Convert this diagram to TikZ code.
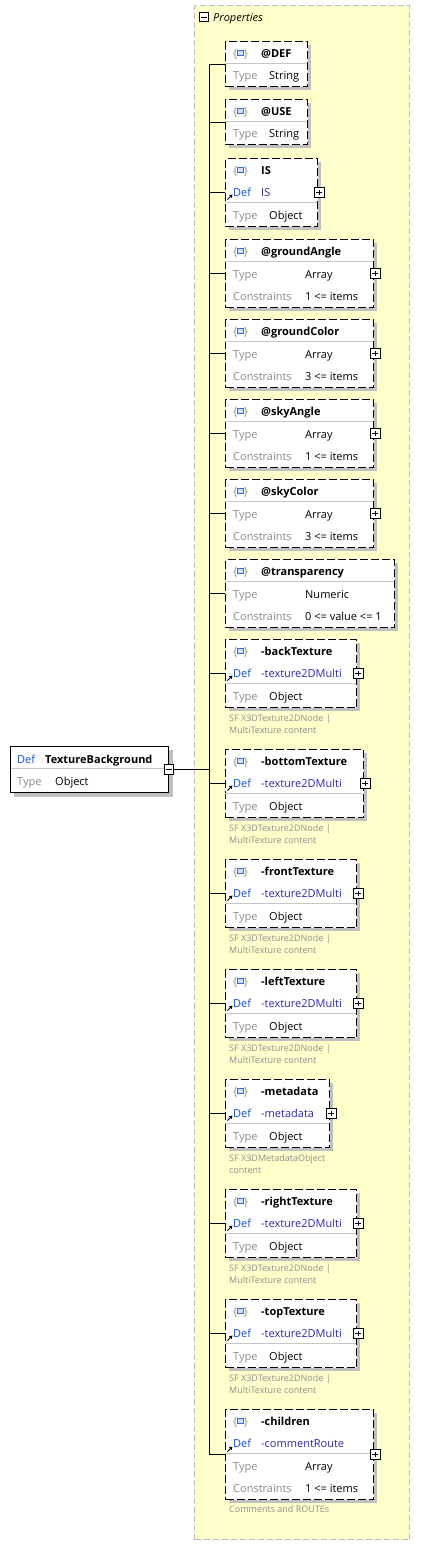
\documentclass[tikz,border=0pt]{standalone}
\usepackage{fontspec}
\setmainfont{Open Sans}
\usetikzlibrary{arrows.meta, positioning}

\definecolor{panelgelb}{HTML}{FFFFCC}
\definecolor{panelrand}{HTML}{BDBDBD}
\definecolor{schattengrau}{HTML}{C0C0C0}
\definecolor{labelgrau}{HTML}{8A8A8A}
\definecolor{notizgrau}{HTML}{8E8E8E}
\definecolor{trennergrau}{HTML}{C6C6C6}
\definecolor{defblau}{HTML}{1050D0}
\definecolor{refblau}{HTML}{2C2AA6}
\definecolor{iconblau}{HTML}{2F6FD0}
\definecolor{iconhell}{HTML}{CFE0FF}

% Rahmen + Schatten + Anschluss an den Stamm
\newcommand{\kastenbau}[4]{%
  \fill[schatten] (229,{#2+4}) rectangle ++(#3,#4);
  \node[kasten, minimum width=#3, minimum height=#4] (#1) at (225,#2) {};
  \draw[linie] (#1.west -| stamm) -- (#1.west);
}
% Kopfzeile mit Symbol
\newcommand{\kastentitel}[3]{%
  \node[txt, text=labelgrau] (#1i) at (233,{#2+12}) {\{\hspace{6.5pt}\}};
  \node[symbol] (#1s) at (#1i) {};
  \node[titeltxt] (#1t) at (261,{#2+12}) {#3};
}
% Attribut: Titel, Type
\newcommand{\attrzwei}[5]{%
  \kastenbau{#1}{#2}{#3}{45}
  \kastentitel{#1}{#2}{#4}
  \draw[trenner] (225,{#2+22.5}) -- ++(#3,0);
  \node[etikett] (#1a) at (233,{#2+34}) {Type};
  \node[wert] (#1b) at (269,{#2+34}) {#5};
}
% Attribut: Titel, Type, Constraints
\newcommand{\attrdrei}[6]{%
  \kastenbau{#1}{#2}{#3}{68}
  \kastentitel{#1}{#2}{#4}
  \draw[trenner] (225,{#2+22.5}) -- ++(#3,0);
  \node[etikett] (#1a) at (233,{#2+35}) {Type};
  \node[wert] (#1b) at (305,{#2+35}) {#5};
  \node[etikett] (#1c) at (233,{#2+57}) {Constraints};
  \node[wert] (#1d) at (305,{#2+57}) {#6};
}
% Element: Titel, Def, Type
\newcommand{\elemdrei}[6]{%
  \kastenbau{#1}{#2}{#3}{68}
  \kastentitel{#1}{#2}{#4}
  \node[deftxt] (#1a) at (233,{#2+34}) {Def};
  \node[refwert] (#1b) at (261,{#2+34}) {#5};
  \draw[trenner] (225,{#2+44.5}) -- ++(#3,0);
  \node[etikett] (#1c) at (233,{#2+57}) {Type};
  \node[wert] (#1d) at (269,{#2+57}) {#6};
  \node[plusknopf] (#1p) at ([xshift=1pt]#1.east) {};
  \draw[refpfeil] (227.5,{#2+41.5}) -- (232.5,{#2+36.5});
}
% zweizeilige Notiz unter einem Kasten
\newcommand{\notiz}[4]{%
  \node[notiztxt] (#1n) at (229,{#2+79}) {#3};
  \node[notiztxt] (#1m) at (229,{#2+91}) {#4};
}

\begin{document}
\begin{tikzpicture}[x=1pt, y=-1pt, every node/.style={font=\fontsize{11}{13}\selectfont}]
  \tikzset{
    panel/.style={draw=panelrand, fill=panelgelb, line width=1pt,
                  dash pattern=on 6pt off 3pt, anchor=north west, inner sep=0pt},
    kasten/.style={draw=black, fill=white, line width=1.2pt,
                   dash pattern=on 8pt off 3pt, anchor=north west, inner sep=0pt},
    wurzel/.style={draw=black, fill=white, line width=1pt,
                   anchor=north west, inner sep=0pt},
    schatten/.style={fill=schattengrau},
    linie/.style={draw=black, line width=1pt},
    trenner/.style={draw=trennergrau, line width=1pt},
    txt/.style={anchor=west, inner sep=0pt, text height=8pt, text depth=0pt},
    titeltxt/.style={txt, font=\fontsize{11}{13}\selectfont\bfseries},
    etikett/.style={txt, text=labelgrau},
    wert/.style={txt, text=black},
    deftxt/.style={txt, text=defblau},
    refwert/.style={txt, text=refblau},
    notiztxt/.style={txt, text=notizgrau, font=\fontsize{9}{11}\selectfont,
                     text height=6.5pt},
    symbol/.style={draw=iconblau, fill=iconhell, line width=1pt,
                   minimum width=6pt, minimum height=5pt, inner sep=0pt},
    knopf/.style={draw=black, fill=white, line width=0.8pt,
                  minimum size=9.5pt, inner sep=0pt},
    minusknopf/.style={knopf, path picture={
        \draw[line width=0.8pt]
          ([xshift=2pt]path picture bounding box.west) --
          ([xshift=-2pt]path picture bounding box.east);}},
    plusknopf/.style={knopf, path picture={
        \draw[line width=0.8pt]
          ([xshift=2pt]path picture bounding box.west) --
          ([xshift=-2pt]path picture bounding box.east)
          ([yshift=-2pt]path picture bounding box.north) --
          ([yshift=2pt]path picture bounding box.south);}},
    refpfeil/.style={draw=black, line width=1pt,
                     -{Triangle[length=3pt, width=3.5pt]}}
  }
  \useasboundingbox (0,0) rectangle (424,1567);

  % Properties-Bereich
  \node[panel, minimum width=215, minimum height=1534] (props) at (194,5) {};
  \node[minusknopf] (propsm) at (204,17) {};
  \node[txt, font=\fontsize{11}{13}\selectfont\itshape] (propst) at (213,17) {Properties};
  \coordinate (stamm) at (209.5,0);

  % Wurzel
  \fill[schatten] (14,750) rectangle (173,797);
  \node[wurzel, minimum width=158, minimum height=46] (root) at (10,746) {};
  \draw[trenner] (10.5,768) -- (167.5,768);
  \node[deftxt] (roota) at (17,759) {Def};
  \node[titeltxt] (rootb) at (45,759) {TextureBackground};
  \node[etikett] (rootc) at (17,781) {Type};
  \node[wert] (rootd) at (55,781) {Object};
  \node[minusknopf] (rootm) at (root.east) {};
  \draw[linie] (rootm.east) -- (rootm.east -| stamm);

  % Attribute
  \attrzwei{def}{41}{82}{@DEF}{String}
  \attrzwei{use}{99}{82}{@USE}{String}
  \elemdrei{is}{158}{92}{IS}{IS}{Object}
  \attrdrei{ga}{239}{148}{@groundAngle}{Array}{1 <= items}
  \node[plusknopf] (gap) at ([xshift=1pt]ga.east) {};
  \attrdrei{gc}{319}{148}{@groundColor}{Array}{3 <= items}
  \node[plusknopf] (gcp) at ([xshift=1pt]gc.east) {};
  \attrdrei{sa}{399}{148}{@skyAngle}{Array}{1 <= items}
  \node[plusknopf] (sap) at ([xshift=1pt]sa.east) {};
  \attrdrei{sc}{479}{148}{@skyColor}{Array}{3 <= items}
  \node[plusknopf] (scp) at ([xshift=1pt]sc.east) {};
  \attrdrei{tr}{559}{169}{@transparency}{Numeric}{0 <= value <= 1}

  % Elemente
  \elemdrei{back}{639}{131}{-backTexture}{-texture2DMulti}{Object}
  \notiz{back}{639}{SF X3DTexture2DNode |}{MultiTexture content}
  \elemdrei{bottom}{749}{138}{-bottomTexture}{-texture2DMulti}{Object}
  \notiz{bottom}{749}{SF X3DTexture2DNode |}{MultiTexture content}
  \elemdrei{front}{859}{131}{-frontTexture}{-texture2DMulti}{Object}
  \notiz{front}{859}{SF X3DTexture2DNode |}{MultiTexture content}
  \elemdrei{left}{969}{131}{-leftTexture}{-texture2DMulti}{Object}
  \notiz{left}{969}{SF X3DTexture2DNode |}{MultiTexture content}
  \elemdrei{meta}{1079}{104}{-metadata}{-metadata}{Object}
  \notiz{meta}{1079}{SF X3DMetadataObject}{content}
  \elemdrei{right}{1189}{131}{-rightTexture}{-texture2DMulti}{Object}
  \notiz{right}{1189}{SF X3DTexture2DNode |}{MultiTexture content}
  \elemdrei{top}{1299}{131}{-topTexture}{-texture2DMulti}{Object}
  \notiz{top}{1299}{SF X3DTexture2DNode |}{MultiTexture content}

  % children
  \kastenbau{ch}{1409}{148}{90}
  \kastentitel{ch}{1409}{-children}
  \node[deftxt] (cha) at (233,1443) {Def};
  \node[refwert] (chb) at (261,1443) {-commentRoute};
  \draw[trenner] (225,1453.5) -- ++(148,0);
  \node[etikett] (chc) at (233,1466) {Type};
  \node[wert] (chd) at (305,1466) {Array};
  \node[etikett] (che) at (233,1488) {Constraints};
  \node[wert] (chf) at (305,1488) {1 <= items};
  \node[plusknopf] (chp) at ([xshift=1pt]ch.east) {};
  \draw[refpfeil] (227.5,1451.5) -- (232.5,1446.5);
  \node[notiztxt] (chn) at (229,1509) {Comments and ROUTEs};

  % Stamm
  \draw[linie] (def.west -| stamm) -- (ch.west -| stamm);
\end{tikzpicture}
\end{document}
